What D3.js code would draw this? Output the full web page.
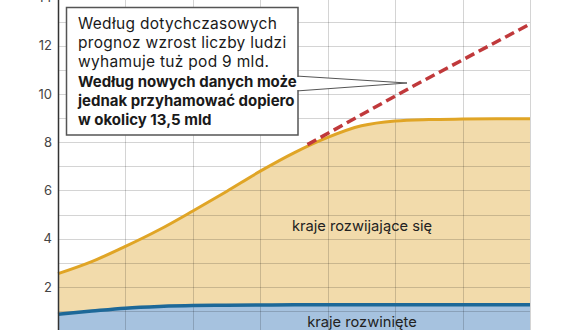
<!DOCTYPE html>
<html>
<head>
<meta charset="utf-8">
<script src="https://cdn.jsdelivr.net/npm/d3@7"></script>
<style>
  body { margin: 0; background: #fff; }
  svg { display: block; font-family: Inter, "Open Sans", sans-serif; }
</style>
</head>
<body>
<div id="chart"></div>
<script>
// lata i wartości (mld ludzi)
var YEARS = [1950, 1960, 1970, 1980, 1990, 2000, 2010, 2020, 2030, 2040, 2050, 2060, 2070, 2080, 2090];
var WORLD = [2.55, 3.05, 3.68, 4.37, 5.15, 5.96, 6.8, 7.56, 8.2, 8.68, 8.88, 8.94, 8.96, 8.97, 8.97];
var DEVELOPED = [0.87, 1.0, 1.12, 1.19, 1.23, 1.24, 1.25, 1.26, 1.26, 1.26, 1.26, 1.26, 1.26, 1.26, 1.26];
var NEW_YEARS = [2024, 2055, 2090];
var NEW_FORECAST = [7.9, 10.3, 12.9];
var Y_TICKS = [0, 2, 4, 6, 8, 10, 12, 14];

var BOX_LINES = [
  { text: "Według dotychczasowych", bold: false },
  { text: "prognoz wzrost liczby ludzi", bold: false },
  { text: "wyhamuje tuż pod 9 mld.", bold: false },
  { text: "Według nowych danych może", bold: true },
  { text: "jednak przyhamować dopiero", bold: true },
  { text: "w okolicy 13,5 mld", bold: true }
];

var width = 570, height = 330;
var left = 58, right = 530;

var svg = d3.select("#chart").append("svg")
  .attr("width", width)
  .attr("height", height);

var x = d3.scaleLinear().domain([1950, 2090]).range([left, right]);
var y = d3.scaleLinear().domain([0, 14]).range([335.2, -2.5]);

var world = YEARS.map(function (d, i) { return { year: d, v: WORLD[i] }; });
var developed = YEARS.map(function (d, i) { return { year: d, v: DEVELOPED[i] }; });
var forecast = NEW_YEARS.map(function (d, i) { return { year: d, v: NEW_FORECAST[i] }; });

var area = d3.area()
  .curve(d3.curveMonotoneX)
  .x(function (d) { return x(d.year); })
  .y0(y(0))
  .y1(function (d) { return y(d.v); });

var line = d3.line()
  .curve(d3.curveMonotoneX)
  .x(function (d) { return x(d.year); })
  .y(function (d) { return y(d.v); });

svg.append("path").datum(world).attr("d", area).attr("fill", "#f2dbab");
svg.append("path").datum(developed).attr("d", area).attr("fill", "#a6c2df");

// siatka
var grid = svg.append("g").attr("stroke", "#000").attr("stroke-opacity", 0.17).attr("stroke-width", 1);
grid.selectAll("line.h")
  .data(d3.range(0, 15))
  .enter().append("line")
  .attr("x1", left).attr("x2", right)
  .attr("y1", function (d) { return Math.round(y(d)) + 0.5; })
  .attr("y2", function (d) { return Math.round(y(d)) + 0.5; });
grid.selectAll("line.v")
  .data(d3.range(1970, 2091, 20))
  .enter().append("line")
  .attr("y1", y(14)).attr("y2", y(0))
  .attr("x1", function (d) { return Math.round(x(d)) + 0.5; })
  .attr("x2", function (d) { return Math.round(x(d)) + 0.5; });

svg.append("path").datum(world).attr("d", line)
  .attr("fill", "none").attr("stroke", "#e0a526").attr("stroke-width", 3);
svg.append("path").datum(developed).attr("d", line)
  .attr("fill", "none").attr("stroke", "#1d6898").attr("stroke-width", 3.5);

svg.append("path").datum(forecast).attr("d", line.curve(d3.curveLinear))
  .attr("fill", "none").attr("stroke", "#c0393b").attr("stroke-width", 3.5)
  .attr("stroke-dasharray", "10,5");

// oś Y
var yAxis = svg.append("g")
  .attr("transform", "translate(" + left + ",0)")
  .call(d3.axisLeft(y).tickValues(Y_TICKS).tickSize(0).tickPadding(6));
yAxis.select(".domain").attr("stroke", "#333").attr("stroke-width", 1.5);
yAxis.selectAll("text").attr("font-size", 13).attr("fill", "#444")
  .attr("font-family", "Inter, sans-serif");

svg.append("text")
  .attr("x", 362).attr("y", y(4.3))
  .attr("text-anchor", "middle")
  .attr("font-size", 14.7).attr("fill", "#222")
  .text("kraje rozwijające się");

svg.append("text")
  .attr("x", 362).attr("y", 327)
  .attr("text-anchor", "middle")
  .attr("font-size", 14.7).attr("fill", "#222")
  .text("kraje rozwinięte");

// dymek
var box = { x: 66.5, y: 7.5, w: 231.5, h: 127.5 };
var tip = [407, 83];
svg.append("path")
  .attr("d", "M" + (box.x + box.w - 2) + "," + 76 + "L" + tip[0] + "," + tip[1] + "L" + (box.x + box.w - 2) + "," + 91 + "Z")
  .attr("fill", "#fff").attr("stroke", "#555").attr("stroke-width", 1);
svg.append("rect")
  .attr("x", box.x).attr("y", box.y).attr("width", box.w).attr("height", box.h)
  .attr("fill", "#fff").attr("stroke", "#555").attr("stroke-width", 1.5);
svg.append("rect")
  .attr("x", box.x + box.w - 2).attr("y", 77).attr("width", 3).attr("height", 13)
  .attr("fill", "#fff");

svg.append("g").selectAll("text")
  .data(BOX_LINES)
  .enter().append("text")
  .attr("x", 78)
  .attr("y", function (d, i) { return 29 + i * 18.8 + (d.bold ? 1.5 : 0); })
  .attr("font-size", function (d) { return d.bold ? 15 : 15.5; })
  .attr("letter-spacing", function (d) { return d.bold ? 0 : 0.3; })
  .attr("font-weight", function (d) { return d.bold ? 700 : 400; })
  .attr("fill", "#1a1a1a")
  .text(function (d) { return d.text; });
</script>
</body>
</html>
